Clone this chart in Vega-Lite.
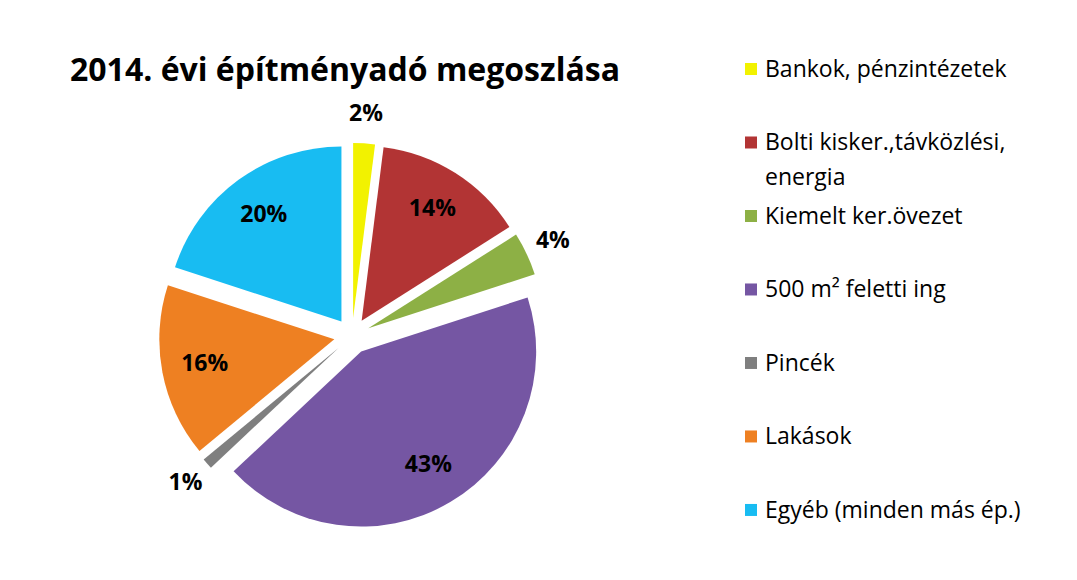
{
  "$schema": "https://vega.github.io/schema/vega-lite/v6.json",
  "background": "white",
  "padding": {"left": 70, "top": 55, "right": 0, "bottom": 0},
  "config": {"view": {"stroke": null}, "font": "Open Sans"},
  "data": {
    "values": [
      {"cat": "Bankok, pénzintézetek", "pct": 0.02, "idx": 1},
      {"cat": "Bolti kisker.,távközlési,\nenergia", "pct": 0.14, "idx": 2},
      {"cat": "Kiemelt ker.övezet", "pct": 0.04, "idx": 3},
      {"cat": "500 m² feletti ing", "pct": 0.43, "idx": 4},
      {"cat": "Pincék", "pct": 0.01, "idx": 5},
      {"cat": "Lakások", "pct": 0.16, "idx": 6},
      {"cat": "Egyéb (minden más ép.)", "pct": 0.20, "idx": 7}
    ]
  },
  "spacing": 107,
  "bounds": "flush",
  "center": true,
  "hconcat": [
    {
      "width": 564,
      "height": 470,
      "title": {
        "text": "2014. évi építményadó megoszlása",
        "anchor": "start",
        "frame": "group",
        "baseline": "bottom",
        "font": "Open Sans",
        "fontSize": 32,
        "fontWeight": "bold",
        "color": "#000000",
        "offset": -19
      },
      "encoding": {
        "theta": {"field": "pct", "type": "quantitative", "stack": true},
        "order": {"field": "idx", "type": "quantitative"}
      },
      "layer": [
        {
          "mark": {
            "type": "arc",
            "radius": 175,
            "xOffset": {"expr": "18*sin(PI*(datum.pct_start+datum.pct_end))"},
            "yOffset": {"expr": "-18*cos(PI*(datum.pct_start+datum.pct_end))"}
          },
          "encoding": {
            "color": {
              "field": "cat",
              "type": "nominal",
              "sort": null,
              "legend": null,
              "scale": {
                "domain": ["Bankok, pénzintézetek", "Bolti kisker.,távközlési,\nenergia", "Kiemelt ker.övezet", "500 m² feletti ing", "Pincék", "Lakások", "Egyéb (minden más ép.)"],
                "range": ["#F2F200", "#B23434", "#8DB045", "#7556A3", "#7F7F7F", "#EE8022", "#18BCF2"]
              }
            }
          }
        },
        {
          "mark": {
            "type": "text",
            "radius": 150,
            "radiusOffset": {"expr": "datum.pct < 0.05 ? 72 : 0"},
            "font": "Open Sans",
            "fontSize": 23,
            "fontWeight": "bold",
            "color": "#000000"
          },
          "encoding": {
            "text": {"field": "pct", "type": "quantitative", "format": ".0%"}
          }
        }
      ]
    },
    {
      "width": 20,
      "height": 534,
      "encoding": {
        "y": {"field": "cat", "type": "nominal", "sort": null, "axis": null, "scale": {"padding": 0.633, "align": 0}}
      },
      "layer": [
        {
          "mark": {"type": "point", "shape": "square", "filled": true, "size": 144, "opacity": 1},
          "encoding": {
            "color": {
              "field": "cat",
              "type": "nominal",
              "sort": null,
              "legend": null,
              "scale": {
                "domain": ["Bankok, pénzintézetek", "Bolti kisker.,távközlési,\nenergia", "Kiemelt ker.övezet", "500 m² feletti ing", "Pincék", "Lakások", "Egyéb (minden más ép.)"],
                "range": ["#F2F200", "#B23434", "#8DB045", "#7556A3", "#7F7F7F", "#EE8022", "#18BCF2"]
              }
            }
          }
        },
        {
          "mark": {
            "type": "text",
            "align": "left",
            "baseline": "alphabetic",
            "dx": 14,
            "dy": 8,
            "font": "Open Sans",
            "fontSize": 23,
            "lineBreak": "\n",
            "lineHeight": 35,
            "color": "#000000"
          },
          "encoding": {
            "text": {"field": "cat", "type": "nominal"}
          }
        }
      ]
    }
  ]
}
